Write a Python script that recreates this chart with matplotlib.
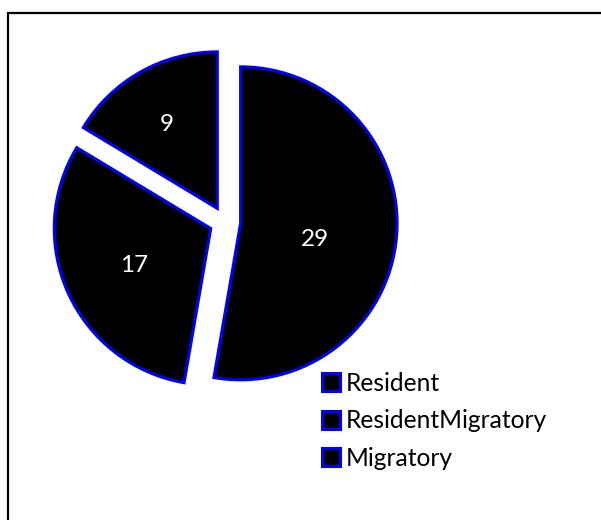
import numpy as np
import matplotlib.pyplot as plt
from matplotlib.patches import Rectangle

# dane wykresu
kategorie = ['Resident', 'ResidentMigratory', 'Migratory']
wartosci = [29, 17, 9]
etykiety = ['29', '17', '9']

# położenie etykiet wewnątrz wycinków (ułamek promienia, korekta kąta)
odl_etykiet = [0.48, 0.54, 0.64]
korekta_kata = [-5.6, 0.0, 1.0]

plt.rcParams['font.family'] = ['Lato', 'DejaVu Sans']

W, H, DPI = 601, 520, 100
fig = plt.figure(figsize=(W / DPI, H / DPI), dpi=DPI)
fig.patch.set_facecolor('white')

ax = fig.add_axes([0, 0, 1, 1])
wedges, _ = ax.pie(wartosci, startangle=90, counterclock=False,
                   explode=[0.1] * len(wartosci), radius=1.0,
                   colors=['black'] * len(wartosci),
                   wedgeprops=dict(edgecolor='#0000FF', linewidth=2.2,
                                   joinstyle='miter'))

# skala: 1 jednostka = 156.5 px, środek koła w (225, 222) px
skala, cx, cy = 156.5, 225, 222
ax.set_aspect('auto')
ax.set_xlim(-cx / skala, (W - cx) / skala)
ax.set_ylim(-(H - cy) / skala, cy / skala)
ax.axis('off')

for w, txt, d, k in zip(wedges, etykiety, odl_etykiet, korekta_kata):
    kat = np.deg2rad((w.theta1 + w.theta2) / 2 + k)
    x = w.center[0] + d * w.r * np.cos(kat)
    y = w.center[1] + d * w.r * np.sin(kat)
    ax.text(x, y - 0.013, txt, color='white', fontsize=17.5,
            ha='center', va='center')

fig.legend(wedges, kategorie, loc='upper left',
           bbox_to_anchor=(322 / W, 1 - 372 / H), frameon=False,
           fontsize=17.7, handlelength=0.74, handleheight=0.74,
           handletextpad=0.22, labelspacing=0.58, borderpad=0,
           borderaxespad=0)

# ramka wykresu (wychodzi poza prawą i dolną krawędź)
fig.patches.append(Rectangle((7.5 / W, -0.1), 1.2, 1 - 13 / H + 0.1,
                             transform=fig.transFigure, fill=False,
                             edgecolor='black', linewidth=1.6))

fig.savefig('out.png', dpi=DPI)
